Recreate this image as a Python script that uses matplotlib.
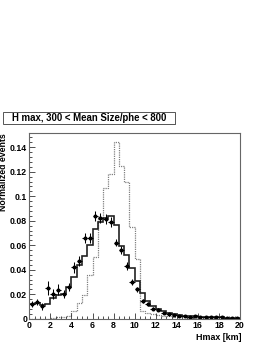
import matplotlib
matplotlib.use("Agg")
import matplotlib.pyplot as plt
from matplotlib.patches import Rectangle
from matplotlib.ticker import MultipleLocator
import numpy as np

# ---- data ----
bin_edges = np.arange(0, 20.01, 0.5)

mc_solid = [0.012, 0.0125, 0.0115, 0.012, 0.0165, 0.019, 0.020, 0.026,
            0.034, 0.044, 0.051, 0.060, 0.073, 0.079, 0.0825, 0.0835,
            0.0765, 0.059, 0.052, 0.041, 0.031, 0.021, 0.0145, 0.0105,
            0.008, 0.006, 0.0047, 0.0035, 0.003, 0.0025, 0.002, 0.0018,
            0.0015, 0.0013, 0.0012, 0.0011, 0.001, 0.0009, 0.0008, 0.0007]

mc_dotted = [0.0, 0.0, 0.0, 0.0, 0.0005, 0.001, 0.001, 0.0025,
             0.006, 0.0125, 0.019, 0.036, 0.0506, 0.083, 0.107, 0.118,
             0.144, 0.125, 0.112, 0.075, 0.049, 0.006, 0.005, 0.004,
             0.003, 0.0025, 0.002, 0.0015, 0.001, 0.001, 0.0005, 0.0005,
             0.0004, 0.0003, 0.0003, 0.0002, 0.0002, 0.0002, 0.0001, 0.0001]

data_x = [0.25, 0.75, 1.25, 1.75, 2.25, 2.75, 3.25, 3.75, 4.25, 4.75,
          5.25, 5.75, 6.25, 6.75, 7.25, 7.75, 8.25, 8.75, 9.25, 9.75,
          10.25, 10.75, 11.25, 11.75, 12.25, 12.75, 13.25, 13.75, 14.25, 14.75,
          15.25, 15.75, 16.25, 16.75, 17.25, 17.75, 18.25, 18.75, 19.25, 19.75]
data_y = [0.012, 0.0135, 0.010, 0.025, 0.020, 0.0235, 0.020, 0.026, 0.042, 0.047,
          0.066, 0.066, 0.084, 0.082, 0.0815, 0.079, 0.062, 0.056, 0.043, 0.030,
          0.024, 0.0145, 0.012, 0.008, 0.0075, 0.0045, 0.0035, 0.003, 0.002, 0.002,
          0.0015, 0.0018, 0.0013, 0.001, 0.0012, 0.001, 0.0012, 0.0009, 0.0008, 0.0006]
data_yerr = [0.0025, 0.0025, 0.0025, 0.0055, 0.004, 0.0045, 0.0035, 0.003, 0.0045, 0.004,
             0.004, 0.004, 0.004, 0.004, 0.004, 0.004, 0.003, 0.003, 0.003, 0.0025,
             0.002, 0.0015, 0.0015, 0.0012, 0.0012, 0.001, 0.001, 0.0008, 0.0007, 0.0007,
             0.0006, 0.0006, 0.0005, 0.0005, 0.0005, 0.0005, 0.0005, 0.0004, 0.0004, 0.0004]
data_xerr = 0.25

title = "H max, 300 < Mean Size/phe < 800"
xlabel = "Hmax [km]"
ylabel = "Normalized events"
xticks = [0, 2, 4, 6, 8, 10, 12, 14, 16, 18, 20]
yticks = [0, 0.02, 0.04, 0.06, 0.08, 0.1, 0.12, 0.14]
ytick_labels = ["0", "0.02", "0.04", "0.06", "0.08", "0.1", "0.12", "0.14"]

# ---- figure ----
plt.rcParams['font.family'] = ['Liberation Sans', 'DejaVu Sans']
W, H = 266, 344
fig = plt.figure(figsize=(W / 100, H / 100), dpi=100)
ax = fig.add_axes([29.3 / W, 1 - 318.7 / H, (240 - 29.3) / W, (318.7 - 133) / H])

ax.stairs(mc_dotted, bin_edges, color='#808080', linestyle=(0, (1, 0.8)), linewidth=0.9)
ax.stairs(mc_solid, bin_edges, color='#222222', linewidth=1.2)
ax.errorbar(data_x, data_y, yerr=data_yerr, xerr=data_xerr, fmt='o', color='black',
            ms=1.9, elinewidth=0.75, capsize=0)

ax.set_xlim(0, 20)
ax.set_ylim(0, 0.1516)
ax.set_xticks(xticks)
ax.set_xticklabels([str(t) for t in xticks])
ax.set_yticks(yticks)
ax.set_yticklabels(ytick_labels)
ax.xaxis.set_minor_locator(MultipleLocator(0.5))
ax.yaxis.set_minor_locator(MultipleLocator(0.004))
ax.tick_params(which='both', direction='in', top=False, right=False,
               labelsize=6.3, width=0.6, color='#333333', pad=1.5)
ax.tick_params(which='major', length=4)
ax.tick_params(which='minor', length=2)
for lab in ax.get_xticklabels() + ax.get_yticklabels():
    lab.set_fontweight('bold')
for sp in ax.spines.values():
    sp.set_color('#666666')
    sp.set_linewidth(0.8)

ax.set_xlabel(xlabel, fontsize=6.4, fontweight='bold', loc='right', labelpad=1)
ax.set_ylabel(ylabel, fontsize=6.3, fontweight='bold', loc='top', labelpad=1)
ax.yaxis.set_label_coords(-21 / (240 - 29.3), 1.0)
ax.xaxis.set_label_coords(1.005, -14 / (318.7 - 133))

# title box
bx0, bx1, by0, by1 = 2.7, 175, 112.3, 124
fig.patches.append(Rectangle((bx0 / W + 1.0 / W, 1 - by1 / H - 1.0 / H), (bx1 - bx0) / W, (by1 - by0) / H,
                             transform=fig.transFigure, facecolor='#888888', edgecolor='none', zorder=1))
fig.patches.append(Rectangle((bx0 / W, 1 - by1 / H), (bx1 - bx0) / W, (by1 - by0) / H,
                             transform=fig.transFigure, facecolor='white', edgecolor='#555555',
                             linewidth=0.7, zorder=2))
fig.text((bx0 + bx1) / 2 / W, 1 - (by0 + by1) / 2 / H, title, fontsize=6.9, fontweight='bold',
         ha='center', va='center', zorder=3)

fig.savefig("out.png", dpi=100)
